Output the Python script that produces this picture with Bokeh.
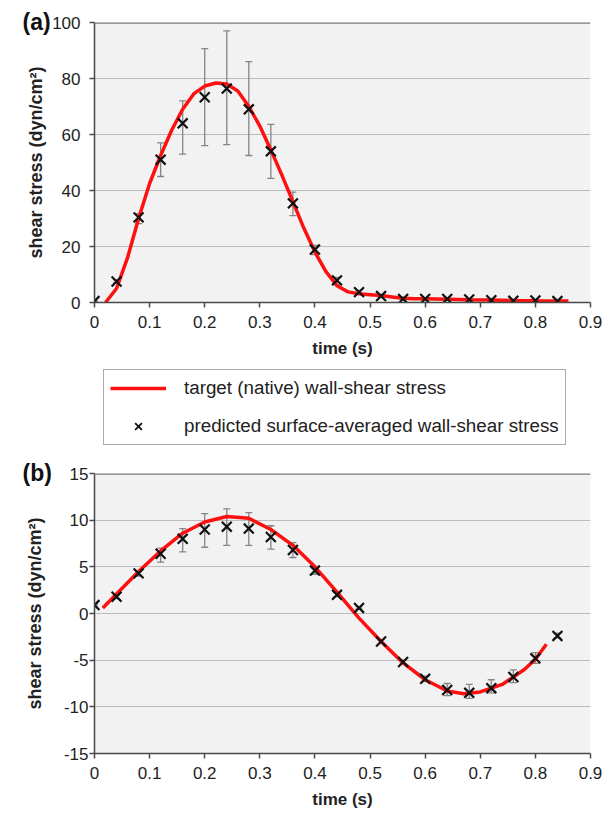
from bokeh.plotting import figure
from bokeh.models import (ColumnDataSource, Range1d, FixedTicker, Whisker, TeeHead,
                          Span, Legend, LegendItem)
from bokeh.layouts import column
from bokeh.embed import file_html
from bokeh.resources import INLINE

FONT = "Liberation Sans"

# ---------------- data ----------------
t_pred = [0.00, 0.04, 0.08, 0.12, 0.16, 0.20, 0.24, 0.28, 0.32, 0.36, 0.40,
          0.44, 0.48, 0.52, 0.56, 0.60, 0.64, 0.68, 0.72, 0.76, 0.80, 0.84]

# panel (a)
a_pred = [0.5, 7.5, 30.4, 51.0, 64.0, 73.3, 76.4, 69.0, 54.0, 35.4, 18.9,
          7.9, 3.7, 2.3, 1.3, 1.3, 1.3, 1.1, 0.8, 0.6, 0.7, 0.5]
a_lo = [0.5, 7.0, 28.2, 45.0, 53.0, 56.0, 56.4, 52.5, 44.3, 31.0, 17.1,
        6.4, 3.1, 1.9, 1.0, 1.0, 1.0, 0.8, 0.5, 0.4, 0.4, 0.3]
a_hi = [0.5, 8.2, 31.7, 57.0, 72.0, 90.7, 97.0, 86.0, 63.6, 39.4, 20.4,
        9.0, 4.3, 2.7, 1.6, 1.6, 1.6, 1.4, 1.1, 0.8, 1.0, 0.7]
a_curve_t = [0.02, 0.04, 0.06, 0.08, 0.10, 0.12, 0.14, 0.16, 0.18, 0.20, 0.22,
             0.24, 0.26, 0.28, 0.30, 0.32, 0.34, 0.36, 0.38, 0.40, 0.42, 0.44,
             0.46, 0.48, 0.50, 0.52, 0.54, 0.56, 0.58, 0.60, 0.64, 0.68, 0.72,
             0.76, 0.80, 0.86]
a_curve_y = [0.0, 5.0, 16.0, 30.0, 42.5, 52.5, 61.5, 69.0, 74.5, 77.3, 78.4,
             78.0, 75.5, 70.0, 63.0, 54.5, 45.5, 36.0, 26.5, 18.0, 11.0, 6.0,
             3.8, 3.1, 2.8, 2.5, 2.0, 1.5, 1.3, 1.3, 1.2, 1.0, 0.9,
             0.7, 0.6, 0.5]

# panel (b)
b_pred = [0.9, 1.8, 4.3, 6.4, 8.0, 9.0, 9.3, 9.1, 8.2, 6.8, 4.6,
          2.0, 0.6, -3.0, -5.2, -7.0, -8.2, -8.5, -8.0, -6.8, -4.8, -2.4]
b_lo = [0.8, 1.6, 4.0, 5.5, 6.6, 7.1, 7.3, 7.3, 6.9, 6.0, 4.2,
        1.8, 0.5, -3.2, -5.4, -7.3, -8.8, -9.1, -8.5, -7.4, -5.35, -2.6]
b_hi = [1.0, 2.0, 4.5, 7.0, 9.1, 10.7, 11.2, 10.8, 9.4, 7.6, 5.0,
        2.2, 0.7, -2.8, -5.0, -6.7, -7.5, -7.6, -7.1, -6.05, -4.2, -2.1]
b_curve_t = [0.015, 0.04, 0.08, 0.12, 0.16, 0.20, 0.24, 0.28, 0.32, 0.36, 0.40,
             0.44, 0.48, 0.52, 0.56, 0.60, 0.64, 0.67, 0.70, 0.74, 0.78, 0.80, 0.82]
b_curve_y = [0.6, 2.1, 4.5, 6.7, 8.6, 9.8, 10.4, 10.2, 9.0, 7.3, 5.0,
             2.3, -0.5, -3.0, -5.3, -7.1, -8.3, -8.6, -8.4, -7.6, -6.0, -4.9, -3.3]

x_ticks = [0.0, 0.1, 0.2, 0.3, 0.4, 0.5, 0.6, 0.7, 0.8, 0.9]
x_tick_labels = ["0", "0.1", "0.2", "0.3", "0.4", "0.5", "0.6", "0.7", "0.8", "0.9"]
a_y_ticks = [0, 20, 40, 60, 80, 100]
a_y_tick_labels = ["0", "20", "40", "60", "80", "100"]
b_y_ticks = [-15, -10, -5, 0, 5, 10, 15]
b_y_tick_labels = ["-15", "-10", "-5", "0", "5", "10", "15"]

x_title = "time (s)"
y_title = "shear stress (dyn/cm²)"
legend_labels = ["target (native) wall-shear stress",
                 "predicted surface-averaged wall-shear stress"]

AXIS_COLOR = "#4a4a4a"
GRID_COLOR = "#bcbcbc"
BG = "#f2f2f2"
ERR_COLOR = "#858585"
RED = "#ff1010"
LEFT = 94


def panel(tag, pred, lo, hi, ct, cy, yticks, ylabels, height, top, bottom,
          ylab_standoff, ytitle_standoff):
    p = figure(width=603, height=height, x_range=Range1d(x_ticks[0], x_ticks[-1]),
               y_range=Range1d(yticks[0], yticks[-1]), output_backend="svg",
               toolbar_location=None, min_border_left=LEFT, min_border_right=13,
               min_border_top=top, min_border_bottom=bottom,
               background_fill_color=BG, border_fill_color="white",
               outline_line_color=None)
    p.xgrid.visible = False
    p.ygrid.grid_line_color = GRID_COLOR
    p.ygrid.grid_line_width = 1.2
    p.ygrid.ticker = FixedTicker(ticks=yticks)

    for ax in (p.xaxis[0], p.yaxis[0]):
        ax.axis_line_color = AXIS_COLOR
        ax.axis_line_width = 1.5
        ax.major_tick_line_color = AXIS_COLOR
        ax.major_tick_line_width = 1.5
        ax.major_tick_in = 0
        ax.major_tick_out = 5
        ax.minor_tick_line_color = None
        ax.major_label_text_font = FONT
        ax.major_label_text_font_size = "17px"
        ax.major_label_text_color = "#222222"
        ax.axis_label_text_font = FONT
        ax.axis_label_text_font_size = "17px"
        ax.axis_label_text_font_style = "bold"
        ax.axis_label_text_color = "#222222"

    p.xaxis.ticker = FixedTicker(ticks=x_ticks)
    p.xaxis.major_label_overrides = dict(zip(x_ticks, x_tick_labels))
    p.xaxis.major_label_standoff = 8
    p.xaxis.axis_label = x_title
    p.xaxis.axis_label_standoff = 8

    p.yaxis.ticker = FixedTicker(ticks=yticks)
    p.yaxis.major_label_overrides = dict(zip(yticks, ylabels))
    p.yaxis.major_label_standoff = ylab_standoff
    p.yaxis.axis_label = y_title
    p.yaxis.axis_label_standoff = ytitle_standoff
    p.yaxis.axis_label_text_font_size = "18px"

    # panel tag as the figure title, pulled to the far left
    p.title.text = tag
    p.title.align = "left"
    p.title.offset = -(LEFT - 22)
    p.title.standoff = -24
    p.title.text_font = FONT
    p.title.text_font_size = "23px"
    p.title.text_font_style = "bold"
    p.title.text_color = "#111111"

    top_line = Span(location=yticks[-1], dimension="width", line_color="#7a7a7a",
                    line_width=2.5)
    p.add_layout(top_line)

    src = ColumnDataSource(dict(t=t_pred, v=pred, lo=lo, hi=hi))
    w = Whisker(source=src, base="t", upper="hi", lower="lo",
                line_color=ERR_COLOR, line_width=1.3,
                upper_head=TeeHead(size=7, line_color=ERR_COLOR, line_width=1.3),
                lower_head=TeeHead(size=7, line_color=ERR_COLOR, line_width=1.3))
    p.add_layout(w)

    p.line(x=ct, y=cy, line_color=RED, line_width=3.5)
    p.scatter(x="t", y="v", source=src, marker="x", size=14, line_color="#111111",
              line_width=2.2)
    return p


fa = panel("(a)", a_pred, a_lo, a_hi, a_curve_t, a_curve_y, a_y_ticks, a_y_tick_labels,
           height=360, top=22, bottom=58, ylab_standoff=9, ytitle_standoff=3)
fb = panel("(b)", b_pred, b_lo, b_hi, b_curve_t, b_curve_y, b_y_ticks, b_y_tick_labels,
           height=356, top=18, bottom=58, ylab_standoff=1, ytitle_standoff=16)

# legend strip (its sample renderers hold points lying outside its ranges)
fl = figure(width=603, height=95, x_range=Range1d(0, 1), y_range=Range1d(0, 1),
            output_backend="svg", toolbar_location=None, x_axis_location=None,
            y_axis_location=None, min_border_left=LEFT, min_border_right=13,
            min_border_top=0, min_border_bottom=0, outline_line_color=None)
fl.grid.visible = False
r_line = fl.line(x=[5, 6], y=[5, 6], line_color=RED, line_width=3.5)
r_mark = fl.scatter(x=[5], y=[5], marker="x", size=12, line_color="#111111", line_width=1.8)
leg = Legend(items=[LegendItem(label=legend_labels[0], renderers=[r_line]),
                    LegendItem(label=legend_labels[1], renderers=[r_mark])],
             location=(9, 10), margin=0, padding=6, spacing=14, glyph_width=56,
             glyph_height=24, label_height=20, label_standoff=18,
             label_text_font=FONT, label_text_font_size="18.8px",
             label_text_color="#222222", border_line_color="#555555",
             border_line_width=1.5, background_fill_color="white",
             background_fill_alpha=1.0)
fl.add_layout(leg)

layout = column(fa, fl, fb, spacing=0)

open("out.html", "w").write(file_html(layout, INLINE))
